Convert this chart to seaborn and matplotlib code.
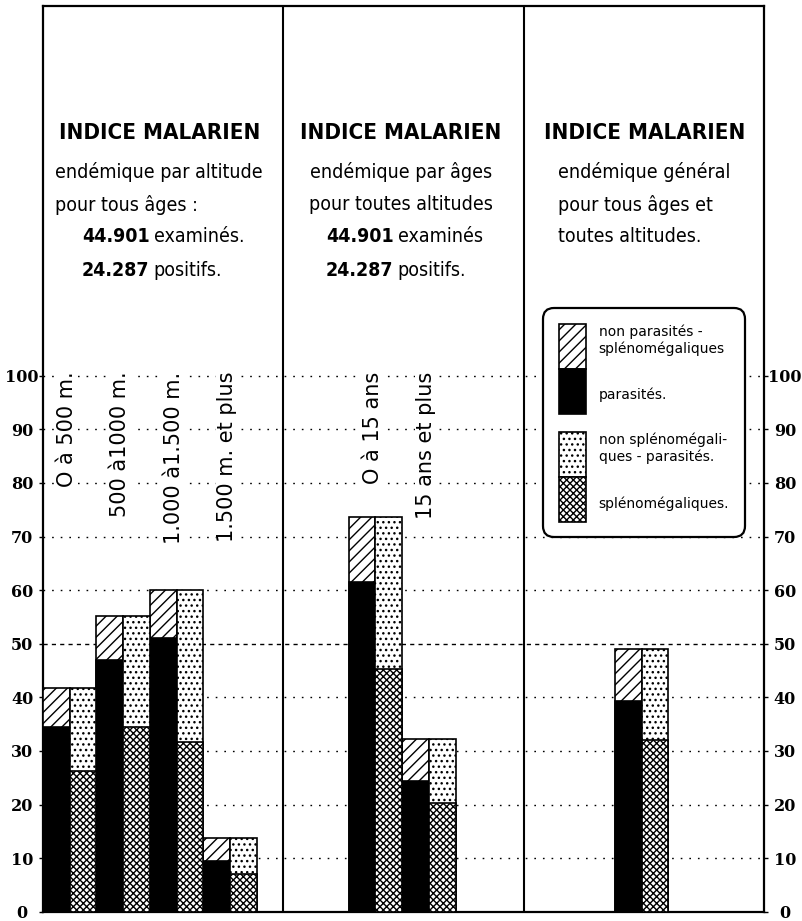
import numpy as np
import pandas as pd
import matplotlib
matplotlib.use("Agg")
import matplotlib.pyplot as plt
import seaborn as sns
from matplotlib.patches import Patch, Rectangle
from matplotlib.legend_handler import HandlerPatch

# ---------------- data ----------------
altitude_labels = ["O à 500 m.", "500 à1000 m.", "1.000 à1.500 m.", "1.500 m. et plus"]
altitude_total = [41.8, 55.2, 60.1, 13.8]
altitude_parasites = [34.5, 47.0, 51.0, 9.5]
altitude_spleno = [26.3, 34.5, 31.6, 7.0]

age_labels = ["O à 15 ans", "15 ans et plus"]
age_total = [73.7, 32.2]
age_parasites = [61.6, 24.4]
age_spleno = [45.3, 20.2]

general_total = [49.0]
general_parasites = [39.4]
general_spleno = [32.0]

y_ticks = list(range(0, 101, 10))

legend_labels = ["non parasités -\nsplénomégaliques", "parasités.",
                 "non splénomégali-\nques - parasités.", "splénomégaliques."]

# ---------------- layout (in bar-width units) ----------------
panel_bounds = [0, 9, 18, 27]
pair_centers = [1, 3, 5, 7, 12.45, 14.45, 22.42]

W, H, DPI = 802, 921, 100
sns.set_theme(style="white")
plt.rcParams["font.family"] = ["DejaVu Sans"]
plt.rcParams["text.color"] = "black"
plt.rcParams["hatch.linewidth"] = 1.0
plt.rcParams["hatch.color"] = "black"

fig = plt.figure(figsize=(W / DPI, H / DPI), dpi=DPI)
fig.patch.set_facecolor("white")

y0_px, ytop_px, px_per_unit = 911.7, 6.0, 5.36
ax = fig.add_axes([43 / W, (H - y0_px) / H, (764 - 43) / W, (y0_px - ytop_px) / H])

df = pd.DataFrame({
    "center": pair_centers,
    "total": altitude_total + age_total + general_total,
    "parasites": altitude_parasites + age_parasites + general_parasites,
    "spleno": altitude_spleno + age_spleno + general_spleno,
})
df["x_black"] = df["center"] - 0.5
df["x_dot"] = df["center"] + 0.5


def bars(xcol, ycol, **kw):
    uniq = np.unique(df[xcol])
    w = 1.0 / np.diff(uniq).min()
    sns.barplot(data=df, x=xcol, y=ycol, native_scale=True, orient="x",
                width=w, errorbar=None, saturation=1, ax=ax,
                edgecolor="black", linewidth=1.2, zorder=3, **kw)


bars("x_black", "total", color="white", hatch="///")
bars("x_black", "parasites", color="black")
bars("x_dot", "total", color="white", hatch="...")
bars("x_dot", "spleno", color="white", hatch="xxxxx")

ax.set_xlim(panel_bounds[0], panel_bounds[-1])
ax.set_ylim(0, (y0_px - ytop_px) / px_per_unit)
ax.set_xticks([])
ax.set_xlabel("")
ax.set_ylabel("")

ax.set_yticks(y_ticks, [str(t) for t in y_ticks], fontfamily="DejaVu Serif",
              fontweight="bold", fontsize=11.5, ha="center", color="black")
ax.tick_params(axis="y", left=True, right=True, labelleft=True, labelright=True,
               length=3, width=1, color="black", labelcolor="black")
ax.yaxis.set_tick_params(which="major", pad=12)
ax.set_axisbelow(True)
ax.yaxis.grid(True, color="black", linewidth=1.0, linestyle=(0, (1.2, 5)))
ax.xaxis.grid(False)
ax.get_ygridlines()[5].set_linestyle((0, (3, 3)))
ax.get_ygridlines()[0].set_visible(False)

for s in ax.spines.values():
    s.set_visible(True)
    s.set_color("black")
    s.set_linewidth(1.6)

for b in panel_bounds[1:-1]:
    ax.axvline(b, color="black", linewidth=1.5, zorder=4)

# rotated category labels
for c, lab in zip(pair_centers[:6], altitude_labels + age_labels):
    ax.text(c - 0.1, 100.8, lab, rotation=90, ha="center", va="top", fontsize=15,
            color="black", zorder=5,
            bbox=dict(facecolor="white", edgecolor="none", pad=1))


# ---------------- panel headings ----------------
def fx(x):
    return x / W


def fy(y):
    return 1 - y / H


title_kw = dict(fontsize=16, fontweight="bold", fontstretch="condensed",
                ha="center", va="center", color="black")
for xc in [160, 401, 645]:
    fig.text(fx(xc), fy(133), "INDICE MALARIEN", **title_kw)

sub_kw = dict(fontsize=14, fontstretch="condensed", va="center", color="black")
fig.text(fx(55), fy(172), "endémique par altitude", ha="left", **sub_kw)
fig.text(fx(55), fy(205), "pour tous âges :", ha="left", **sub_kw)
fig.text(fx(401), fy(172), "endémique par âges", ha="center", **sub_kw)
fig.text(fx(401), fy(205), "pour toutes altitudes", ha="center", **sub_kw)
fig.text(fx(558), fy(172), "endémique général", ha="left", **sub_kw)
fig.text(fx(558), fy(205), "pour tous âges et", ha="left", **sub_kw)
fig.text(fx(558), fy(237), "toutes altitudes.", ha="left", **sub_kw)


def mixed(x, y, num, word):
    t = fig.text(fx(x), fy(y), num, ha="left", fontweight="bold", **sub_kw)
    ax.annotate(word, xy=(1, 0.5), xycoords=t, xytext=(3, 0), textcoords="offset points",
                ha="left", va="center", annotation_clip=False,
                **{k: v for k, v in sub_kw.items() if k != "va"})


mixed(82, 237, "44.901", "examinés.")
mixed(82, 270, "24.287", "positifs.")
mixed(326, 237, "44.901", "examinés")
mixed(326, 270, "24.287", "positifs.")

# ---------------- legend ----------------
handles = [Patch(facecolor="white", edgecolor="black", hatch="///", linewidth=1.2),
           Patch(facecolor="black", edgecolor="black", linewidth=1.2),
           Patch(facecolor="white", edgecolor="black", hatch="...", linewidth=1.2),
           Patch(facecolor="white", edgecolor="black", hatch="xxxxx", linewidth=1.2)]
leg_fs = 10
spacing = 1.3
ext = spacing * leg_fs / 2


def make_handler(down, up):
    def f(legend, orig_handle, xdescent, ydescent, width, height, fontsize):
        return Rectangle((-xdescent, -ydescent - down), width, height + down + up)
    return HandlerPatch(patch_func=f)


hmap = {handles[0]: make_handler(ext, 0), handles[1]: make_handler(0, ext),
        handles[2]: make_handler(ext, 0), handles[3]: make_handler(0, ext)}
leg = ax.legend(handles, legend_labels, handler_map=hmap, loc="upper left",
                bbox_to_anchor=((543 - 43) / (764 - 43), (y0_px - 308) / (y0_px - ytop_px)),
                borderaxespad=0, fontsize=leg_fs, handlelength=1.95, handleheight=3.61,
                labelspacing=spacing, handletextpad=0.94, borderpad=1.12,
                frameon=True, fancybox=True, framealpha=1)
for txt in leg.get_texts():
    txt.set_color("black")
fr = leg.get_frame()
fr.set_edgecolor("black")
fr.set_linewidth(1.6)
fr.set_boxstyle("round", pad=0, rounding_size=0.8)
leg.set_zorder(10)

fig.savefig("out.png", dpi=DPI, facecolor="white")
